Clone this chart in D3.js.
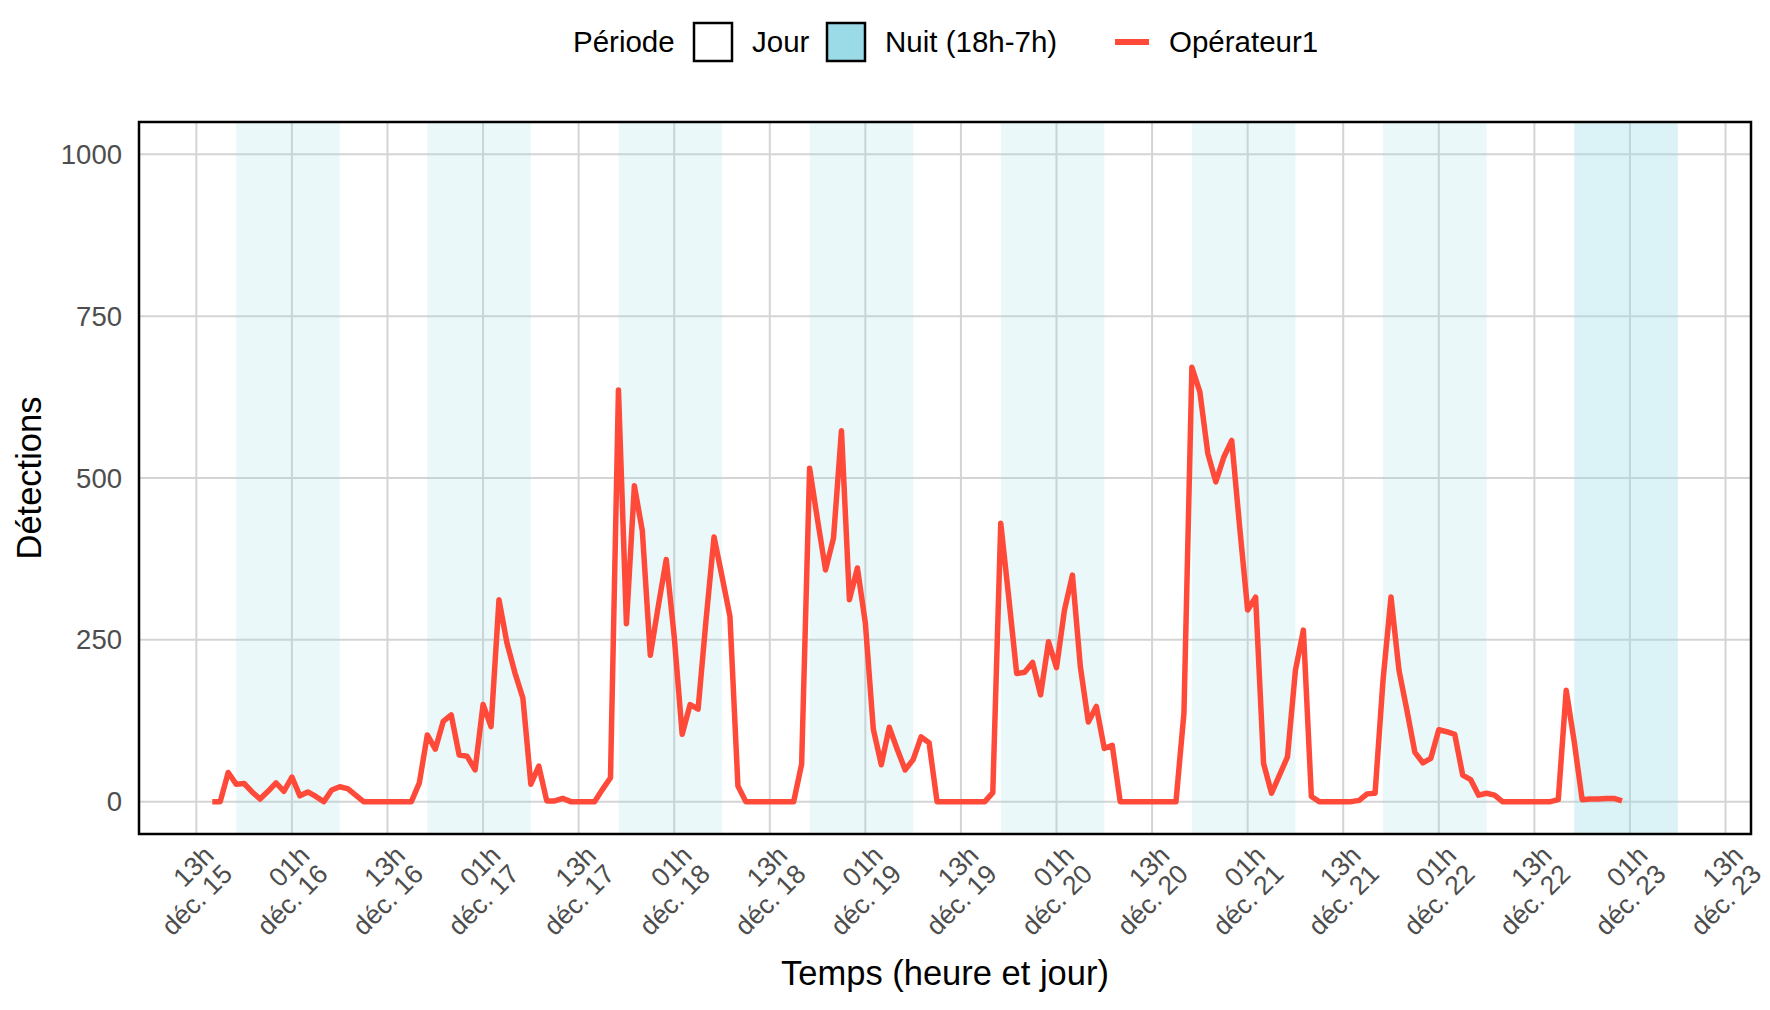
<!DOCTYPE html>
<html>
<head>
	<meta charset="UTF-8" />
	<title>Détections par heure</title>
	<script src="https://d3js.org/d3.v7.min.js"></script>
	<style>
		body { margin: 0; background: #fff; }
		text { font-family: "Liberation Sans", Arial, sans-serif; }
	</style>
</head>
<body>
	<svg id="chart" width="1770" height="1010"></svg>

	<script type="text/javascript">
	// colours
	var lineColor = "#FF4A3A"
	var nightColor = "#9BDAE7"
	var gridColor = "#D4D4D4"
	var tickColor = "#4D4D4D"

	// hourly detections, first value at 15h on dec. 15
	var seriesName = "Opérateur1"
	var seriesStart = "2023-12-15T15:00:00Z"
	var dec15 = [0, 0, 45, 27, 28, 15, 4, 16, 29]
	var dec16 = [16, 38, 9, 15, 8, 0, 18, 23, 20, 10, 0, 0, 0, 0, 0, 0, 0, 29, 103, 81, 124, 134, 72, 70]
	var dec17 = [49, 150, 116, 312, 245, 199, 160, 27, 55, 1, 1, 5, 0, 0, 0, 0, 19, 37, 636, 275, 488, 418, 226, 302]
	var dec18 = [374, 255, 104, 150, 143, 281, 409, 348, 286, 24, 0, 0, 0, 0, 0, 0, 0, 58, 515, 435, 358, 407, 573, 312]
	var dec19 = [361, 276, 112, 57, 115, 81, 49, 65, 100, 91, 0, 0, 0, 0, 0, 0, 0, 14, 430, 316, 198, 200, 215, 165]
	var dec20 = [247, 207, 296, 350, 208, 123, 147, 82, 87, 0, 0, 0, 0, 0, 0, 0, 0, 136, 671, 633, 538, 494, 532, 558]
	var dec21 = [424, 296, 316, 59, 13, 41, 69, 203, 265, 8, 0, 0, 0, 0, 0, 2, 12, 13, 188, 316, 203, 141, 76, 60]
	var dec22 = [67, 111, 108, 104, 41, 34, 10, 13, 10, 0, 0, 0, 0, 0, 0, 0, 3, 172, 93, 3, 4, 4, 5, 5]
	var dec23 = [1]

	// nights (18h -> 7h next day), the last one is drawn twice in the original
	var nightStarts = ["2023-12-15", "2023-12-16", "2023-12-17", "2023-12-18", "2023-12-19", "2023-12-20", "2023-12-21", "2023-12-22"]
	var nightLayers = [1, 1, 1, 1, 1, 1, 1, 2]

	var yTicks = [0, 250, 500, 750, 1000]
	var legendLabels = ["Jour", "Nuit (18h-7h)"]

	var values = [].concat(dec15, dec16, dec17, dec18, dec19, dec20, dec21, dec22, dec23)
	var t0 = new Date(seriesStart)
	var series = values.map((v, i) => ({ t: d3.utcHour.offset(t0, i), v: v }))

	var nights = []
	nightStarts.forEach((s, i) => {
		var a = d3.utcHour.offset(new Date(s + "T00:00:00Z"), 18)
		var b = d3.utcHour.offset(a, 13)
		for (var k = 0; k < nightLayers[i]; k++) nights.push({ a: a, b: b })
	})

	// panel (pTop: "top" is taken by window.top)
	var pLeft = 139, pRight = 1751, pTop = 122, pBottom = 834
	var svg = d3.select("#chart")

	// x range from data + rects, expanded 5% like ggplot
	var xmin = d3.min([series[0].t, nights[0].a])
	var xmax = d3.max([series[series.length - 1].t, nights[nights.length - 1].b])
	var pad = (xmax - xmin) * 0.05
	var x = d3.scaleUtc()
		.domain([new Date(+xmin - pad), new Date(+xmax + pad)])
		.range([pLeft, pRight])
	var y = d3.scaleLinear().domain([-50, 1050]).range([pBottom, pTop])

	var fr = d3.timeFormatLocale({
		dateTime: "%A %e %B %Y à %X", date: "%d/%m/%Y", time: "%H:%M:%S",
		periods: ["AM", "PM"],
		days: ["dimanche", "lundi", "mardi", "mercredi", "jeudi", "vendredi", "samedi"],
		shortDays: ["dim.", "lun.", "mar.", "mer.", "jeu.", "ven.", "sam."],
		months: ["janvier", "février", "mars", "avril", "mai", "juin", "juillet", "août", "septembre", "octobre", "novembre", "décembre"],
		shortMonths: ["janv.", "févr.", "mars", "avr.", "mai", "juin", "juil.", "août", "sept.", "oct.", "nov.", "déc."]
	})
	var fmtHour = fr.utcFormat("%Hh")
	var fmtDay = fr.utcFormat("%b %d")

	var xTicks = x.ticks(d3.utcHour.filter(d => d.getUTCHours() % 12 === 1))

	// grid
	var grid = svg.append("g")
	grid.selectAll("line.gy").data(yTicks).enter().append("line")
		.attr("x1", pLeft).attr("x2", pRight)
		.attr("y1", d => y(d)).attr("y2", d => y(d))
		.style("stroke", gridColor).style("stroke-width", 2)
	grid.selectAll("line.gx").data(xTicks).enter().append("line")
		.attr("x1", d => x(d)).attr("x2", d => x(d))
		.attr("y1", pTop).attr("y2", pBottom)
		.style("stroke", gridColor).style("stroke-width", 2)

	// nights
	svg.append("g").selectAll("rect").data(nights).enter().append("rect")
		.attr("x", d => x(d.a)).attr("width", d => x(d.b) - x(d.a))
		.attr("y", pTop).attr("height", pBottom - pTop)
		.style("fill", nightColor).style("fill-opacity", 0.2)

	// line
	var line = d3.line().x(d => x(d.t)).y(d => y(d.v))
	svg.append("path").datum(series)
		.attr("d", line)
		.style("fill", "none").style("stroke", lineColor)
		.style("stroke-width", 5.5).style("stroke-linejoin", "round")

	// panel border
	svg.append("rect")
		.attr("x", pLeft).attr("y", pTop).attr("width", pRight - pLeft).attr("height", pBottom - pTop)
		.style("fill", "none").style("stroke", "#000").style("stroke-width", 2.5)

	// y labels
	svg.append("g").selectAll("text").data(yTicks).enter().append("text")
		.attr("x", 122).attr("y", d => y(d)).attr("dy", "0.35em")
		.attr("text-anchor", "end")
		.style("font-size", "27.5px").style("fill", tickColor)
		.text(d => d)

	// x labels, rotated 45°
	var xl = svg.append("g").selectAll("g").data(xTicks).enter().append("g")
		.attr("transform", d => `translate(${x(d) + 5},843) rotate(-45)`)
	var xt = xl.append("text").attr("text-anchor", "end")
		.style("font-size", "26.5px").style("fill", tickColor)
	xt.append("tspan").attr("x", 0).attr("y", 20).text(d => fmtHour(d))
	xt.append("tspan").attr("x", 0).attr("y", 46).text(d => fmtDay(d))

	// axis titles
	svg.append("text")
		.attr("x", (pLeft + pRight) / 2).attr("y", 985)
		.attr("text-anchor", "middle")
		.style("font-size", "34.5px").style("fill", "#000")
		.text("Temps (heure et jour)")
	svg.append("text")
		.attr("transform", `translate(41,${(pTop + pBottom) / 2}) rotate(-90)`)
		.attr("text-anchor", "middle")
		.style("font-size", "34.5px").style("fill", "#000")
		.text("Détections")

	// legend
	var lg = svg.append("g")
	lg.append("text").attr("x", 573).attr("y", 52)
		.style("font-size", "29.5px").text("Période")
	var boxX = [694, 827]
	var boxFill = ["#fff", nightColor]
	legendLabels.forEach((lab, i) => {
		lg.append("rect").attr("x", boxX[i]).attr("y", 23).attr("width", 38).attr("height", 38)
			.style("fill", boxFill[i]).style("stroke", "#000").style("stroke-width", 2.5)
		lg.append("text").attr("x", boxX[i] + 58).attr("y", 52)
			.style("font-size", "29.5px").text(lab)
	})
	lg.append("line").attr("x1", 1115).attr("x2", 1149).attr("y1", 42).attr("y2", 42)
		.style("stroke", lineColor).style("stroke-width", 6)
	lg.append("text").attr("x", 1169).attr("y", 52)
		.style("font-size", "29.5px").text(seriesName)
	</script>
</body>
</html>
